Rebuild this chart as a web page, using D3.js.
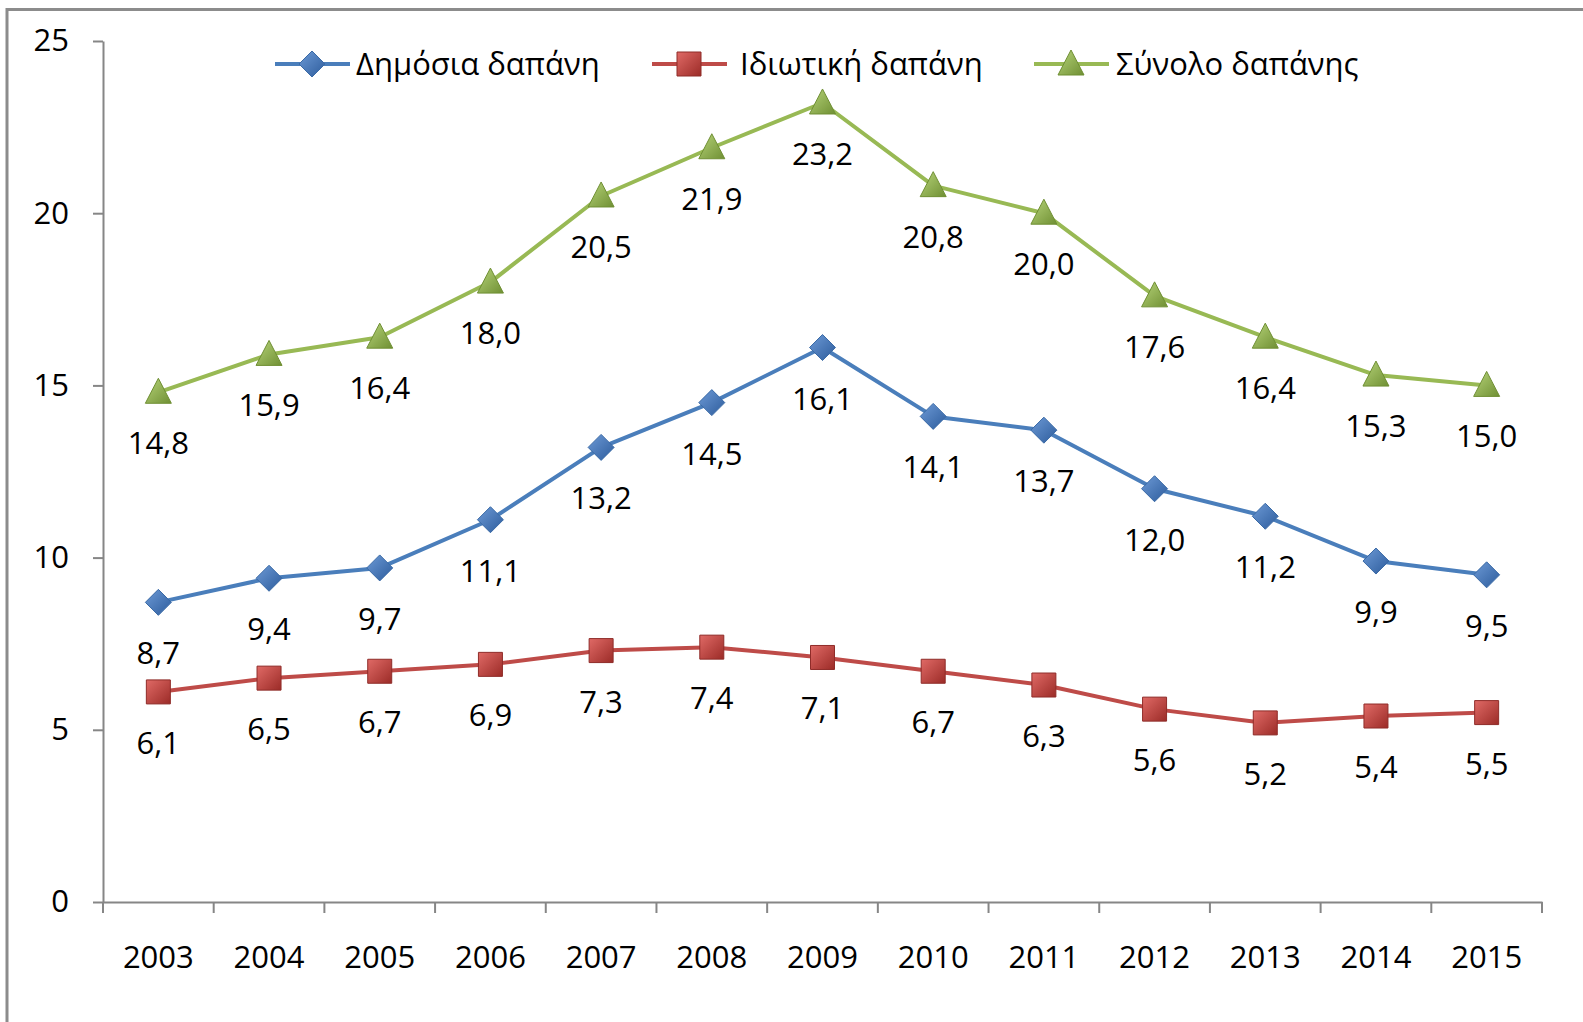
<!DOCTYPE html>
<html>
<head>
<meta charset="utf-8">
<script src="https://cdn.jsdelivr.net/npm/d3@7"></script>
<style>
  body { margin: 0; background: #fff; }
  text { font-family: "Open Sans", "DejaVu Sans", sans-serif; fill: #000; }
</style>
</head>
<body>
<svg id="chart"></svg>
<script>
// data
var years = ["2003","2004","2005","2006","2007","2008","2009","2010","2011","2012","2013","2014","2015"];
var publicSpend = [8.7, 9.4, 9.7, 11.1, 13.2, 14.5, 16.1, 14.1, 13.7, 12.0, 11.2, 9.9, 9.5];
var privateSpend = [6.1, 6.5, 6.7, 6.9, 7.3, 7.4, 7.1, 6.7, 6.3, 5.6, 5.2, 5.4, 5.5];
var totalSpend = [14.8, 15.9, 16.4, 18.0, 20.5, 21.9, 23.2, 20.8, 20.0, 17.6, 16.4, 15.3, 15.0];
var seriesNames = ["Δημόσια δαπάνη", "Ιδιωτική δαπάνη", "Σύνολο δαπάνης"];
var yTicks = [0, 5, 10, 15, 20, 25];

var screen = {width: 1583, height: 1022}
var margins = {top: 41, right: 41, bottom: 120, left: 103}

var svg = d3.select("#chart")
    .attr("width", screen.width)
    .attr("height", screen.height)

// outer frame of the chart area
svg.append("path")
    .attr("d", "M7,1022 L7,9.5 L1583,9.5")
    .attr("fill", "none")
    .attr("stroke", "#8c8c8c")
    .attr("stroke-width", 3)

var width = screen.width - margins.left - margins.right;
var height = screen.height - margins.top - margins.bottom;

var graph = svg.append("g")
    .attr("transform", "translate(" + margins.left + "," + margins.top + ")")

var xScale = d3.scaleBand().domain(years).range([0, width])
var yScale = d3.scaleLinear().domain([0, 25]).range([height, 0])

var fmt = function(v) { return d3.format(".1f")(v).replace(".", ",") }

// axes
var yAxis = graph.append("g")
    .call(d3.axisLeft(yScale).tickValues(yTicks).tickSize(10).tickPadding(24).tickSizeOuter(0))
yAxis.select(".domain").attr("stroke", "#868686").attr("stroke-width", 2)
yAxis.selectAll(".tick line").attr("stroke", "#868686").attr("stroke-width", 2)
yAxis.selectAll("text").attr("font-size", 31).attr("font-family", "Open Sans")

var xAxis = graph.append("g")
    .attr("transform", "translate(0," + height + ")")
    .call(d3.axisBottom(xScale).tickSize(0).tickPadding(44))
xAxis.select(".domain").attr("stroke", "#868686").attr("stroke-width", 2)
xAxis.selectAll("text").attr("font-size", 31).attr("font-family", "Open Sans")

// tick marks sit between the categories
var edges = years.map(function(d) { return xScale(d) }).concat([width])
xAxis.selectAll(".sep")
    .data(edges)
    .enter()
    .append("line")
    .attr("class", "sep")
    .attr("x1", function(d) { return d })
    .attr("x2", function(d) { return d })
    .attr("y1", 0)
    .attr("y2", 11)
    .attr("stroke", "#868686")
    .attr("stroke-width", 2)

// gradients for the markers
var defs = svg.append("defs")
var grad = function(id, light, dark) {
    var g = defs.append("linearGradient").attr("id", id)
        .attr("x1", 0).attr("y1", 0).attr("x2", 1).attr("y2", 1)
    g.append("stop").attr("offset", "0%").attr("stop-color", light)
    g.append("stop").attr("offset", "100%").attr("stop-color", dark)
}
grad("gBlue", "#6d9ad6", "#2d5c9c")
grad("gRed", "#e06a66", "#9b2b27")
grad("gGreen", "#b7d47a", "#6f8f33")

var diamond = "M0,-13 L13,0 L0,13 L-13,0 Z"
var square = "M-12,-12 L12,-12 L12,12 L-12,12 Z"
var triangle = "M0,-14 L13,11 L-13,11 Z"

var series = [
    {name: seriesNames[0], values: publicSpend, color: "#4a7ebb", fill: "url(#gBlue)", stroke: "#3a6aa6", shape: diamond},
    {name: seriesNames[1], values: privateSpend, color: "#be4b48", fill: "url(#gRed)", stroke: "#8f2c29", shape: square},
    {name: seriesNames[2], values: totalSpend, color: "#98b954", fill: "url(#gGreen)", stroke: "#6f8f33", shape: triangle}
]

var cx = function(i) { return xScale(years[i]) + xScale.bandwidth() / 2 }

var line = d3.line()
    .x(function(d, i) { return cx(i) })
    .y(function(d) { return yScale(d) })

series.forEach(function(s) {
    var g = graph.append("g").attr("class", "series")
    g.append("path")
        .datum(s.values)
        .attr("d", line)
        .attr("fill", "none")
        .attr("stroke", s.color)
        .attr("stroke-width", 4)
        .attr("stroke-linejoin", "round")
    g.selectAll(".mark")
        .data(s.values)
        .enter()
        .append("path")
        .attr("class", "mark")
        .attr("d", s.shape)
        .attr("transform", function(d, i) { return "translate(" + cx(i) + "," + yScale(d) + ")" })
        .attr("fill", s.fill)
        .attr("stroke", s.stroke)
        .attr("stroke-width", 1)
    g.selectAll(".lbl")
        .data(s.values)
        .enter()
        .append("text")
        .attr("class", "lbl")
        .attr("x", function(d, i) { return cx(i) })
        .attr("y", function(d) { return yScale(d) + 62 })
        .attr("text-anchor", "middle")
        .attr("font-size", 31)
        .text(function(d) { return fmt(d) })
})

// legend
var legendX = [275, 652, 1034]
var legend = svg.selectAll(".legend")
    .data(series)
    .enter()
    .append("g")
    .attr("class", "legend")
    .attr("transform", function(d, i) { return "translate(" + legendX[i] + ",64)" })
legend.append("line")
    .attr("x1", 0).attr("x2", 75)
    .attr("stroke", function(d) { return d.color })
    .attr("stroke-width", 4)
legend.append("path")
    .attr("d", function(d) { return d.shape })
    .attr("transform", "translate(37,0)")
    .attr("fill", function(d) { return d.fill })
    .attr("stroke", function(d) { return d.stroke })
legend.append("text")
    .attr("x", function(d, i) { return [81, 88, 82][i] })
    .attr("y", 11)
    .attr("font-size", 31)
    .text(function(d) { return d.name })
</script>
</body>
</html>
